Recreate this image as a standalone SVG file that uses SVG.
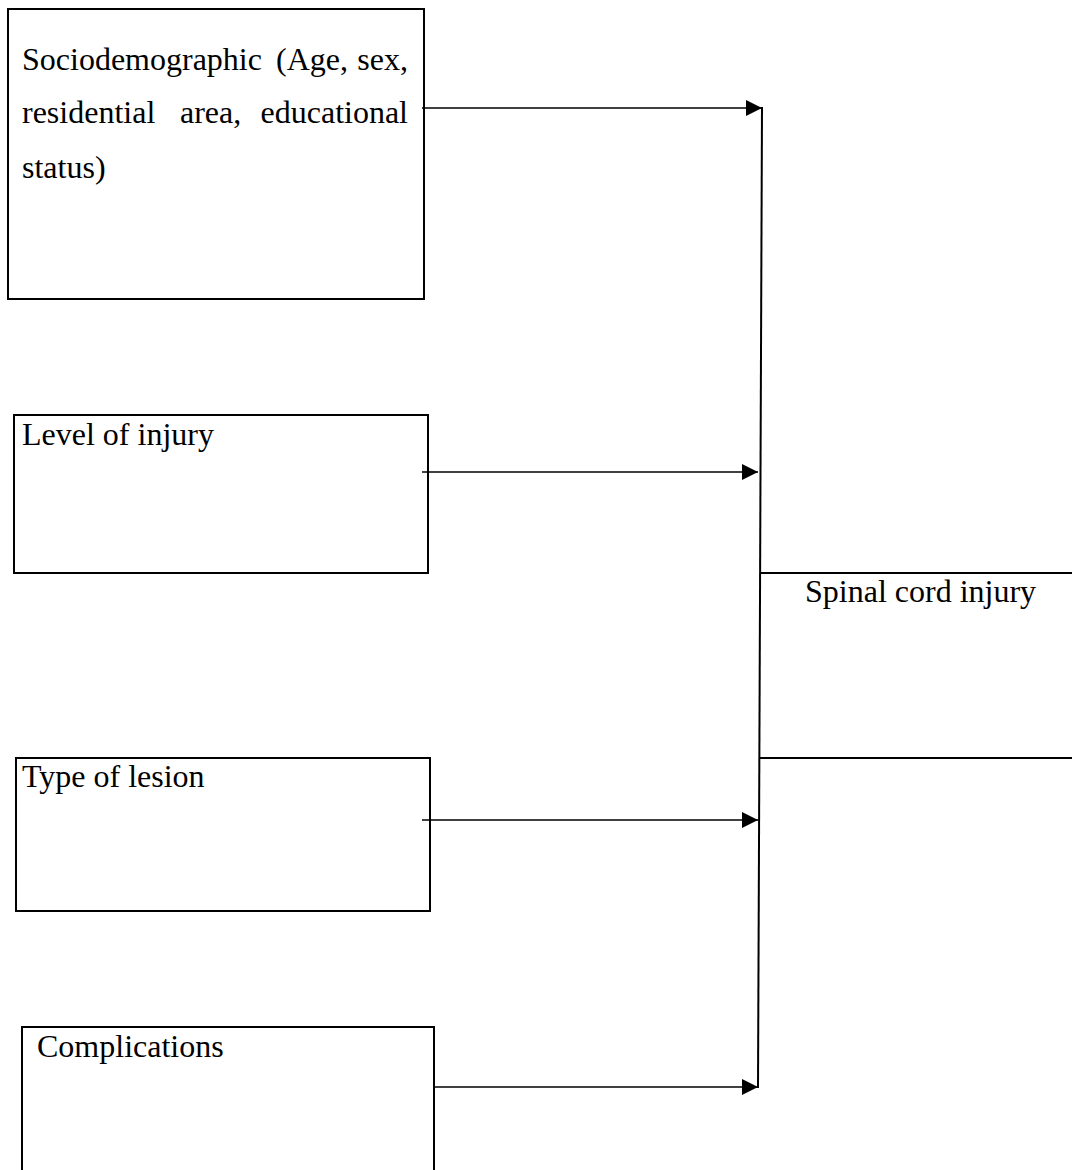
<svg xmlns="http://www.w3.org/2000/svg" width="1072" height="1170" viewBox="0 0 1072 1170">
<style>
.box{fill:#fff;stroke:#000;stroke-width:2}
.t{font-family:"Liberation Serif","Times New Roman",serif;font-size:32px;fill:#000}
.c{fill:none;stroke:#000;stroke-width:1.6}
.l{fill:none;stroke:#000;stroke-width:2}
</style>
<defs>
<marker id="ah" markerUnits="userSpaceOnUse" markerWidth="17" markerHeight="17" refX="16" refY="8" orient="auto">
<path d="M0,0 L16,8 L0,16 Z" fill="#000"/>
</marker>
</defs>
<rect width="1072" height="1170" fill="#fff"/>
<g id="node-sociodemographic">
<rect class="box" x="8" y="9" width="416" height="290"/>
<text class="t" y="70"><tspan x="22">Sociodemographic</tspan><tspan x="276">(Age,</tspan><tspan x="408" text-anchor="end">sex,</tspan></text>
<text class="t" y="123"><tspan x="22">residential</tspan><tspan x="180">area,</tspan><tspan x="408" text-anchor="end">educational</tspan></text>
<text class="t" x="22" y="178">status)</text>
</g>
<g id="node-level">
<rect class="box" x="14" y="415" width="414" height="158"/>
<text class="t" x="22" y="445">Level of injury</text>
</g>
<g id="node-type">
<rect class="box" x="16" y="758" width="414" height="153"/>
<text class="t" x="22" y="787">Type of lesion</text>
</g>
<g id="node-complications">
<rect class="box" x="22" y="1027" width="412" height="150"/>
<text class="t" x="37" y="1057">Complications</text>
</g>
<g id="node-spinal">
<line class="l" x1="760" y1="573" x2="1072" y2="573"/>
<line class="l" x1="760" y1="758" x2="1072" y2="758"/>
<text class="t" x="805" y="602">Spinal cord injury</text>
</g>
<g id="connectors">
<line class="c" x1="422" y1="108" x2="762" y2="108" marker-end="url(#ah)"/>
<line class="c" x1="422" y1="472" x2="758" y2="472" marker-end="url(#ah)"/>
<line class="c" x1="422" y1="820" x2="758" y2="820" marker-end="url(#ah)"/>
<line class="c" x1="434" y1="1087" x2="758" y2="1087" marker-end="url(#ah)"/>
<line class="l" x1="762" y1="107" x2="758" y2="1088"/>
</g>
</svg>
